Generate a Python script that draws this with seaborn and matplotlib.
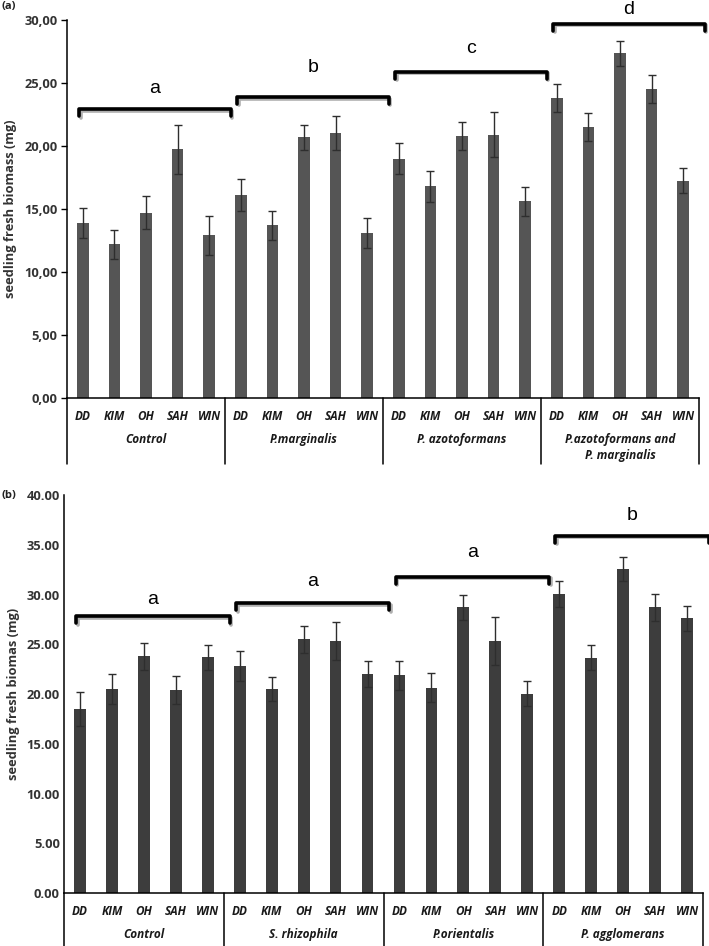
import numpy as np
import pandas as pd
import seaborn as sns
import matplotlib.pyplot as plt
import matplotlib.patheffects as pe
from matplotlib.ticker import FuncFormatter

subs = ['DD', 'KIM', 'OH', 'SAH', 'WIN']

groups_a = ['Control', 'P.marginalis', 'P. azotoformans', 'P.azotoformans and\nP. marginalis']
mean_a = [13.9, 12.2, 14.7, 19.75, 12.9,
          16.1, 13.7, 20.7, 21.0, 13.1,
          19.0, 16.8, 20.8, 20.9, 15.6,
          23.8, 21.5, 27.35, 24.5, 17.25]
err_a = [1.2, 1.15, 1.3, 1.95, 1.55,
         1.25, 1.15, 1.0, 1.35, 1.2,
         1.25, 1.25, 1.1, 1.8, 1.15,
         1.1, 1.1, 1.0, 1.1, 1.0]
letters_a = ['a', 'b', 'c', 'd']
bracket_a = [22.9, 23.9, 25.9, 29.7]
letter_y_a = [24.6, 26.2, 27.7, 30.8]

groups_b = ['Control', 'S. rhizophila', 'P.orientalis', 'P. agglomerans']
mean_b = [18.5, 20.5, 23.8, 20.4, 23.7,
          22.8, 20.5, 25.5, 25.35, 22.0,
          21.9, 20.65, 28.7, 25.35, 20.05,
          30.05, 23.65, 32.55, 28.7, 27.6]
err_b = [1.7, 1.5, 1.35, 1.4, 1.25,
         1.5, 1.25, 1.35, 1.9, 1.3,
         1.45, 1.5, 1.3, 2.4, 1.3,
         1.3, 1.25, 1.2, 1.4, 1.25]
letters_b = ['a', 'a', 'a', 'b']
bracket_b = [27.8, 29.1, 31.8, 35.9]
letter_y_b = [29.5, 31.3, 34.2, 37.9]

sns.set_theme(style="white")
plt.rcParams['font.family'] = ['Open Sans', 'DejaVu Sans']

W, H = 709, 946
fig = plt.figure(figsize=(W / 100, H / 100), dpi=100)
ax_a = fig.add_axes([67 / W, 1 - 398 / H, (699 - 67) / W, 378 / H])
ax_b = fig.add_axes([64 / W, 1 - 893 / H, (703 - 64) / W, 398 / H])


def draw_panel(ax, groups, means, errs, letters, bracket_y, letter_y,
               bar_color, ymax, sep, ylabel, line_drop, ticklen, bdrop):
    keys = [f'{g}|{s}' for g in groups for s in subs]
    df = pd.DataFrame({'key': keys, 'value': means})
    sns.barplot(data=df, x='key', y='value', order=keys, color=bar_color,
                saturation=1, width=0.37, errorbar=None, linewidth=0, ax=ax)
    xs = np.arange(len(keys))
    ax.errorbar(xs, means, yerr=errs, fmt='none', ecolor='#2e2e2e',
                elinewidth=1.0, capsize=3, capthick=1.0, zorder=3)

    ax.set_xlim(-0.5, len(keys) - 0.5)
    ax.set_ylim(0, ymax)
    ax.set_yticks(np.arange(0, ymax + 0.1, 5))
    ax.yaxis.set_major_formatter(FuncFormatter(lambda v, p: f'{v:.2f}'.replace('.', sep)))
    ax.tick_params(axis='y', labelsize=9.3, labelcolor='#333333', color='black',
                   length=ticklen, width=1, direction='out', pad=3, left=True)
    for lab in ax.get_yticklabels():
        lab.set_fontweight('bold')
    ax.set_xticks([])
    ax.set_xlabel('')
    ax.set_ylabel(ylabel, fontsize=9.3, fontweight='bold', color='#333333', labelpad=5)
    for s in ['top', 'right']:
        ax.spines[s].set_visible(False)
    for s in ['left', 'bottom']:
        ax.spines[s].set_color('black')
        ax.spines[s].set_linewidth(1.1)

    hpx = ax.get_position().height * H
    tr = ax.get_xaxis_transform()
    for i, k in enumerate(keys):
        ax.text(i, -18 / hpx, k.split('|')[1], transform=tr, ha='center', va='center',
                fontsize=8.5, fontweight='bold', fontstyle='italic', color='#1a1a1a')
    for g, name in enumerate(groups):
        ax.text(g * 5 + 2, -35 / hpx, name, transform=tr, ha='center', va='top',
                fontsize=8.5, fontweight='bold', fontstyle='italic', color='#1a1a1a',
                linespacing=1.25)
    for xv in np.arange(-0.5, len(keys), 5):
        ax.plot([xv, xv], [0, -line_drop / hpx], transform=tr, color='black',
                lw=1.1, clip_on=False)

    shadow = [pe.SimpleLineShadow(offset=(1.2, -1.2), alpha=0.35), pe.Normal()]
    for g in range(len(groups)):
        lo, hi = g * 5 - 0.12, g * 5 + 4.68
        yb = bracket_y[g]
        ax.plot([lo, lo, hi, hi], [yb - bdrop, yb, yb, yb - bdrop], color='black',
                lw=2.6, solid_joinstyle='round', solid_capstyle='round',
                clip_on=False, path_effects=shadow, zorder=4)
        ax.text((lo + hi) / 2, letter_y[g], letters[g], ha='center', va='center',
                fontsize=14, family=['Liberation Sans', 'DejaVu Sans'],
                color='black', clip_on=False)


draw_panel(ax_a, groups_a, mean_a, err_a, letters_a, bracket_a, letter_y_a,
           '#555555', 30, ',', 'seedling fresh biomass (mg)', 66, 4, 0.55)
draw_panel(ax_b, groups_b, mean_b, err_b, letters_b, bracket_b, letter_y_b,
           '#3d3d3d', 40, '.', 'seedling fresh biomas (mg)', 60, 0, 0.7)

fig.text(2 / W, 1 - 6 / H, '(a)', fontsize=8, fontweight='bold', color='#222222',
         ha='left', va='center')
fig.text(2 / W, 1 - 495 / H, '(b)', fontsize=8, fontweight='bold', color='#222222',
         ha='left', va='center')

fig.savefig('out.png', dpi=100)
